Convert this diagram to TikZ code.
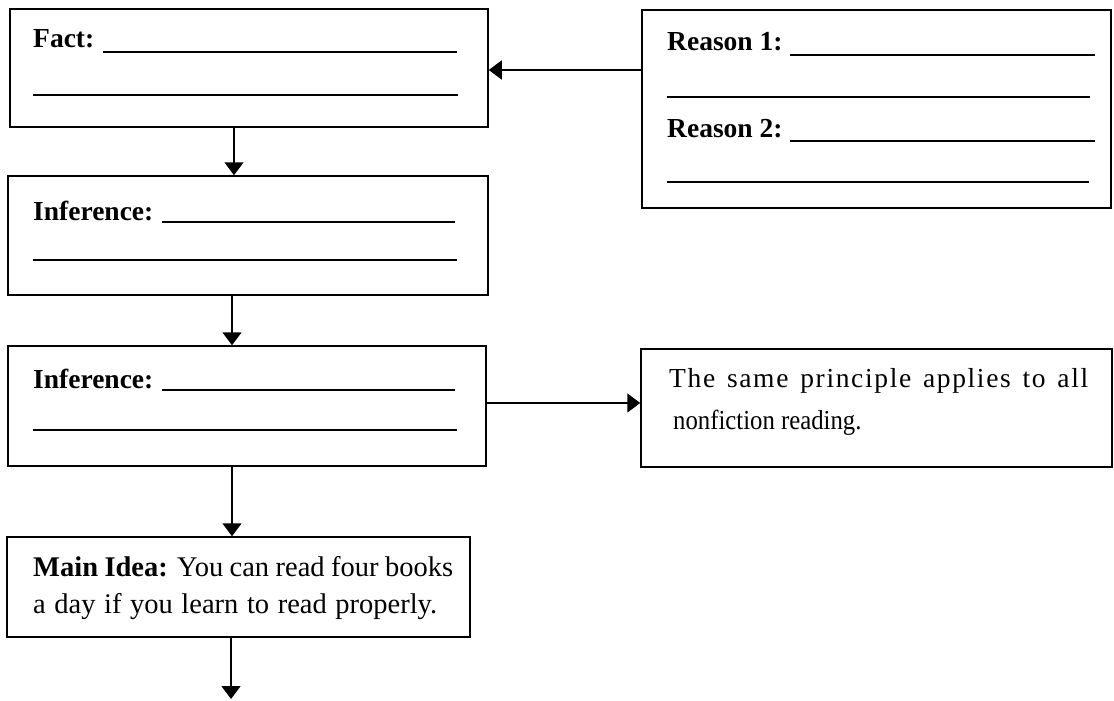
\documentclass[tikz,border=0pt]{standalone}
\usepackage{fontspec}
\setmainfont{Liberation Serif}
\usetikzlibrary{arrows.meta,calc}
\begin{document}
\begin{tikzpicture}[x=1pt,y=-1pt,
  box/.style={draw, line width=1.5pt, rectangle, inner sep=0pt},
  lbl/.style={anchor=base west, inner sep=0pt, font=\fontsize{27.5}{30}\selectfont\bfseries},
  txt/.style={anchor=base west, inner sep=0pt, font=\fontsize{27.5}{30}\selectfont},
  bigtxt/.style={anchor=base west, inner sep=0pt, font=\fontsize{28.5}{30}\selectfont},
  blank/.style={line width=1.8pt},
  arr/.style={line width=1.5pt, -{Triangle[length=13pt,width=19pt]}}]
\useasboundingbox (0,0) rectangle (1114,701);
% boxes
\node[box, minimum width=478pt, minimum height=118pt] (fact) at (249,68) {};
\node[box, minimum width=469pt, minimum height=198pt] (reason) at (876.5,109) {};
\node[box, minimum width=480pt, minimum height=119pt] (inf1) at (248,235.5) {};
\node[box, minimum width=478pt, minimum height=120pt] (inf2) at (247,406) {};
\node[box, minimum width=471pt, minimum height=118pt] (same) at (876.5,408) {};
\node[box, minimum width=463pt, minimum height=100pt] (main) at (238.5,587) {};
% Fact
\node[lbl] (factlbl) at (33,48) {Fact:};
\draw[blank] (103,52) -- (457,52);
\draw[blank] (33,95) -- (458,95);
% Reasons
\node[lbl] (r1lbl) at (667,51) {Reason 1:};
\draw[blank] (790,55) -- (1095,55);
\draw[blank] (667,97) -- (1090,97);
\node[lbl] (r2lbl) at (667,137) {Reason 2:};
\draw[blank] (790,141) -- (1095,141);
\draw[blank] (667,182) -- (1089,182);
% Inference 1
\node[lbl] (inf1lbl) at (33,220) {Inference:};
\draw[blank] (162,222) -- (455,222);
\draw[blank] (33,260) -- (457,260);
% Inference 2
\node[lbl] (inf2lbl) at (33,388) {Inference:};
\draw[blank] (162,390) -- (455,390);
\draw[blank] (33,430) -- (457,430);
% Same principle
\node[txt] (same1) at (669,387) {\makebox[419pt][s]{\addfontfeature{LetterSpace=6}The same principle applies to all}};
\node[txt] (same2) at (673,429) {\scalebox{0.9}[1]{nonfiction reading.}};
% Main idea
\node[bigtxt] (main1) at (33,576) {\makebox[420pt][s]{\textbf{Main Idea:} You can read four books}};
\node[bigtxt] (main2) at (33,613) {\makebox[404pt][s]{a day if you learn to read properly.}};
% connectors
\draw[arr] ([yshift=39pt]reason.west) -- ([yshift=39pt]reason.west -| fact.east);
\draw[arr] ([xshift=-15pt]fact.south) -- ([xshift=-15pt]fact.south |- inf1.north);
\draw[arr] ([xshift=-16pt]inf1.south) -- ([xshift=-16pt]inf1.south |- inf2.north);
\draw[arr] ([xshift=-15pt]inf2.south) -- ([xshift=-15pt]inf2.south |- main.north);
\draw[arr] ([yshift=3pt]inf2.east) -- ([yshift=3pt]inf2.east -| same.west);
\coordinate (endpt) at (231,699);
\draw[arr] (main.south -| endpt) -- (endpt);
\end{tikzpicture}
\end{document}
